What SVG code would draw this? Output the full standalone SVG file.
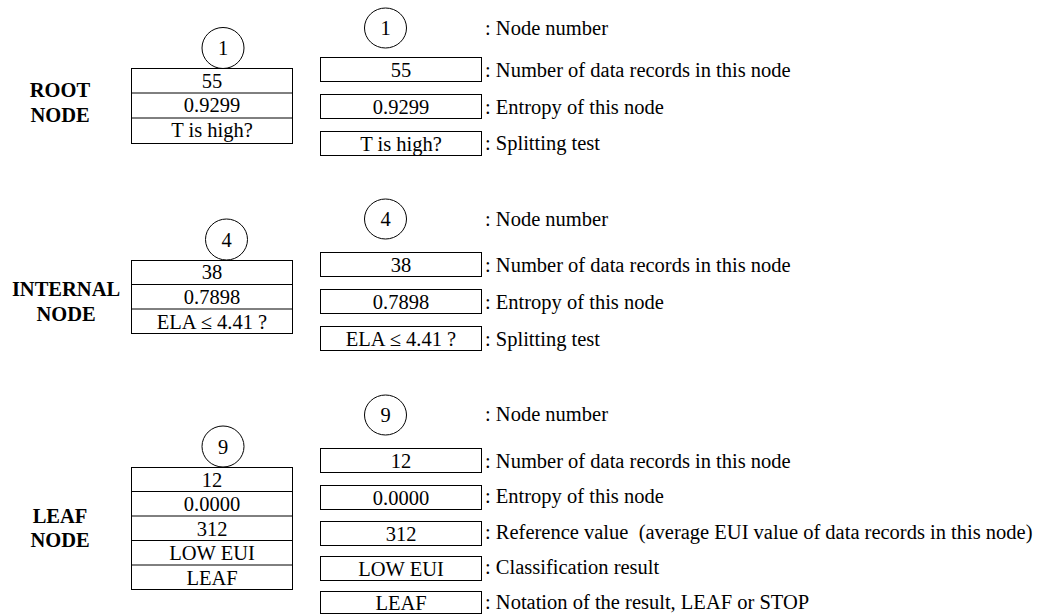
<svg xmlns="http://www.w3.org/2000/svg" width="1057" height="615" viewBox="0 0 1057 615">
<style>
  text { font-family: "Liberation Serif", "Times New Roman", serif; font-size: 20.5px; fill: #000; }
  .c { text-anchor: middle; }
  .lbl { font-weight: bold; text-anchor: middle; }
  .box { fill: #fff; stroke: #000; stroke-width: 1; }
  .div { stroke: #000; stroke-width: 1; fill: none; }
  .circ { fill: #fff; stroke: #000; stroke-width: 1; }
</style>
<rect width="1057" height="615" fill="#fff"/>
<g id="connectors"/>

<!-- ROOT NODE -->
<g id="root-label">
  <text class="lbl" x="60" y="97">ROOT</text>
  <text class="lbl" x="60" y="122">NODE</text>
</g>
<g id="root-node">
  <ellipse class="circ" cx="223" cy="48" rx="21" ry="20.5"/>
  <text class="c" x="223" y="55">1</text>
  <rect class="box" x="131.5" y="68.5" width="161" height="75"/>
  <line class="div" x1="131.5" y1="93" x2="292.5" y2="93"/>
  <line class="div" x1="131.5" y1="118" x2="292.5" y2="118" stroke-width="1.5"/>
  <text class="c" x="212" y="87.5">55</text>
  <text class="c" x="212" y="112">0.9299</text>
  <text class="c" x="212" y="137">T is high?</text>
</g>
<g id="root-legend">
  <ellipse class="circ" cx="385.5" cy="28" rx="21" ry="20"/>
  <text class="c" x="385.5" y="35">1</text>
  <text x="485" y="35">: Node number</text>
  <rect class="box" x="320.5" y="57.5" width="161" height="24"/>
  <text class="c" x="401" y="77">55</text>
  <text x="485" y="77">: Number of data records in this node</text>
  <rect class="box" x="320.5" y="94.5" width="161" height="24"/>
  <text class="c" x="401" y="114">0.9299</text>
  <text x="485" y="114">: Entropy of this node</text>
  <rect class="box" x="320.5" y="131.5" width="161" height="24"/>
  <text class="c" x="401" y="151">T is high?</text>
  <text x="485" y="150">: Splitting test</text>
</g>

<!-- INTERNAL NODE -->
<g id="internal-label">
  <text class="lbl" x="66" y="296">INTERNAL</text>
  <text class="lbl" x="66" y="321">NODE</text>
</g>
<g id="internal-node">
  <ellipse class="circ" cx="226.5" cy="239.5" rx="21" ry="20.5"/>
  <text class="c" x="226.5" y="246.5">4</text>
  <rect class="box" x="131.5" y="260.5" width="161" height="73"/>
  <line class="div" x1="131.5" y1="284.5" x2="292.5" y2="284.5"/>
  <line class="div" x1="131.5" y1="309" x2="292.5" y2="309" stroke-width="1.5"/>
  <text class="c" x="212" y="279">38</text>
  <text class="c" x="212" y="303.5">0.7898</text>
  <text class="c" x="212" y="328.5">ELA ≤ 4.41 ?</text>
</g>
<g id="internal-legend">
  <ellipse class="circ" cx="385.5" cy="219" rx="21" ry="20"/>
  <text class="c" x="385.5" y="226">4</text>
  <text x="485" y="226">: Node number</text>
  <rect class="box" x="320.5" y="252.5" width="161" height="24"/>
  <text class="c" x="401" y="272">38</text>
  <text x="485" y="272">: Number of data records in this node</text>
  <rect class="box" x="320.5" y="289.5" width="161" height="24"/>
  <text class="c" x="401" y="309">0.7898</text>
  <text x="485" y="309">: Entropy of this node</text>
  <rect class="box" x="320.5" y="326.5" width="161" height="24"/>
  <text class="c" x="401" y="346">ELA ≤ 4.41 ?</text>
  <text x="485" y="346">: Splitting test</text>
</g>

<!-- LEAF NODE -->
<g id="leaf-label">
  <text class="lbl" x="60" y="523">LEAF</text>
  <text class="lbl" x="60" y="547">NODE</text>
</g>
<g id="leaf-node">
  <ellipse class="circ" cx="223" cy="446.5" rx="21" ry="20.5"/>
  <text class="c" x="223" y="453.5">9</text>
  <rect class="box" x="131.5" y="467.5" width="161" height="122"/>
  <line class="div" x1="131.5" y1="491.5" x2="292.5" y2="491.5"/>
  <line class="div" x1="131.5" y1="516" x2="292.5" y2="516"/>
  <line class="div" x1="131.5" y1="540.5" x2="292.5" y2="540.5"/>
  <line class="div" x1="131.5" y1="565" x2="292.5" y2="565"/>
  <text class="c" x="212" y="486.5">12</text>
  <text class="c" x="212" y="510.5">0.0000</text>
  <text class="c" x="212" y="535.5">312</text>
  <text class="c" x="212" y="560">LOW EUI</text>
  <text class="c" x="212" y="584.5">LEAF</text>
</g>
<g id="leaf-legend">
  <ellipse class="circ" cx="385.5" cy="415" rx="21" ry="20"/>
  <text class="c" x="385.5" y="422">9</text>
  <text x="485" y="421">: Node number</text>
  <rect class="box" x="320.5" y="448.5" width="161" height="24"/>
  <text class="c" x="401" y="468">12</text>
  <text x="485" y="468">: Number of data records in this node</text>
  <rect class="box" x="320.5" y="485.5" width="161" height="24"/>
  <text class="c" x="401" y="505">0.0000</text>
  <text x="485" y="503">: Entropy of this node</text>
  <rect class="box" x="320.5" y="521.5" width="161" height="24"/>
  <text class="c" x="401" y="541">312</text>
  <text x="485" y="539" xml:space="preserve">: Reference value  (average EUI value of data records in this node)</text>
  <rect class="box" x="320.5" y="556.5" width="161" height="24"/>
  <text class="c" x="401" y="576">LOW EUI</text>
  <text x="485" y="574">: Classification result</text>
  <rect class="box" x="320.5" y="591.5" width="161" height="22"/>
  <text class="c" x="401" y="610">LEAF</text>
  <text x="485" y="609">: Notation of the result, LEAF or STOP</text>
</g>
</svg>
